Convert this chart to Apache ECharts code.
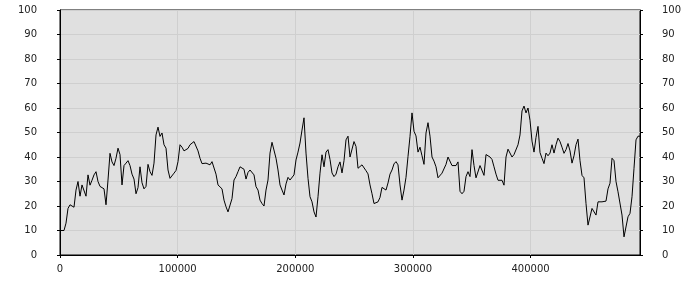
<!DOCTYPE html>
<html>
<head>
<meta charset="utf-8">
<script src="https://cdn.jsdelivr.net/npm/echarts@6/dist/echarts.min.js"></script>
<style>
html,body{margin:0;padding:0;background:#fff;}
#c{width:700px;height:300px;}
</style>
</head>
<body>
<div id="c"></div>
<script>
const xStep = 1700;
const xMax = 493000;
const yTicks = [0,10,20,30,40,50,60,70,80,90,100];
const xTicks = [0,100000,200000,300000,400000];
const values = [
10,10,10,13,19,20.5,21,19.5,26.5,30,
24,28.6,29,24,32.7,28.5,30.5,32.7,34,30,
28,28.5,27,20.5,30.6,41.5,38,36.5,39.5,43.6,
41,28.6,36.5,37.5,38.5,36.5,33,31,25,27.5,
36,29.5,27,28,37,34,32.5,37.5,49,
52.2,48.4,49.8,45,43.6,34.7,31.3,31,33.4,34.5,
38.1,45,44,42.5,42.5,43.5,45,45.5,46.3,45.6,
42.5,39.5,37.3,37.3,37.5,37.5,36.8,38.1,38.1,33,
28.6,28.6,27,22.4,19.7,17.6,17,23,30.6,32,
34,36,36,35,31,33.7,34.7,34.7,
32.7,27.9,26.5,22.4,21,20,26.5,30.6,41.6,46,
45.6,39.5,34.7,28.6,26.5,24.5,29,31.7,30.6,31,
32.7,38.8,42,45.7,51,56,41.6,31.3,23.8,21.7,
17.6,15.5,23.8,33.4,40.9,36,42,43,39,33.5,
32,33,36,38,33.5,38.5,47,48.5,40,
40,46.3,44.3,35.4,35.4,36.8,37,34.4,33.1,28.6,
25,21,20.8,21.7,23.5,27.6,27.6,26.5,29.4,33,
34.7,37.2,38.1,36.8,28.6,22.4,26.5,31.7,40.2,48.4,
58,50.5,48.6,42,44,40.5,37,49.8,54,48.5,
40,38.3,36,31.5,31,33.4,33.2,37,40,
39.5,36.5,36.5,36.5,38,26,25,26,32,34,
32,43,36.5,31.5,32,36.5,36.5,32.5,41,41.8,
40,39,36,33,30.5,31,30.5,28.5,40,43.2,
43,40,41,41.5,45,49,58.8,60.8,58,60,
55,46.5,42,48,52.5,41.8,39.5,37.3,
41.6,40.5,41.6,45,41.6,45,47.7,46.3,44,41.5,
43,45.5,42.5,37.5,40.5,45,47.3,38.5,32.5,31.5,
21,12.2,12.2,19,19.5,16.3,21.7,21.5,21.7,21.7,
22,27,29.3,39.5,38.5,30,25.8,25.8,16.3,7.4,
8,15.6,17,23.8,35.4,47,48.5,48.5
];

const seriesData = values.map((v, i) => [i * xStep, v]);
const labelFont = {fontFamily: 'DejaVu Sans', fontSize: 10, color: '#222'};

const yAxisCommon = {
  type: 'value', min: yTicks[0], max: yTicks[yTicks.length - 1], interval: 10,
  axisLine: {show: true, lineStyle: {color: '#000', width: 1}},
  axisTick: {show: true, length: 3, lineStyle: {color: '#000'}},
};

const chart = echarts.init(document.getElementById('c'), null, {renderer: 'canvas'});
chart.setOption({
  animation: false,
  backgroundColor: '#fff',
  grid: {left: 60, right: 60, top: 10, bottom: 45, show: true,
         backgroundColor: '#e0e0e0', borderColor: '#000', borderWidth: 1},
  xAxis: {
    type: 'value', min: 0, max: xMax, interval: 100000,
    axisLine: {show: true, onZero: false, lineStyle: {color: '#000'}},
    axisTick: {show: true, length: 3, lineStyle: {color: '#000'}},
    axisLabel: Object.assign({margin: 9, showMaxLabel: false,
      formatter: v => xTicks.includes(v) ? String(v) : ''}, labelFont),
    splitLine: {show: true, lineStyle: {color: '#cfcfcf', width: 1}}
  },
  yAxis: [
    Object.assign({}, yAxisCommon, {position: 'left',
      axisLabel: Object.assign({margin: 23, align: 'right'}, labelFont),
      splitLine: {show: true, lineStyle: {color: '#cfcfcf', width: 1}}}),
    Object.assign({}, yAxisCommon, {position: 'right',
      axisLabel: Object.assign({margin: 22, align: 'left'}, labelFont),
      splitLine: {show: false}})
  ],
  series: [{
    type: 'line', data: seriesData, showSymbol: false, symbol: 'none',
    lineStyle: {color: '#000', width: 1}, silent: true
  }]
});
</script>
</body>
</html>
